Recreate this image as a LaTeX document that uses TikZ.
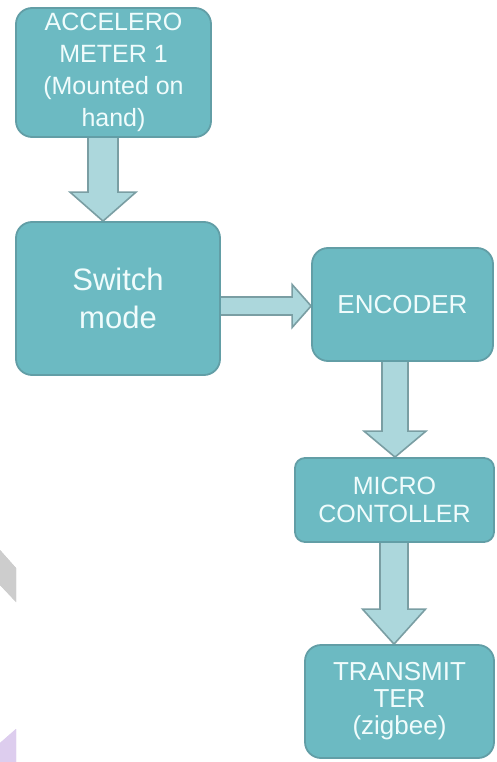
\documentclass[tikz,border=0pt]{standalone}
\usepackage{fontspec}
\setmainfont{Liberation Sans}
\usetikzlibrary{calc,backgrounds}
\definecolor{boxfill}{RGB}{108,186,194}
\definecolor{boxedge}{RGB}{98,158,166}
\definecolor{arrfill}{RGB}{172,215,220}
\definecolor{arredge}{RGB}{122,158,163}
\definecolor{txt}{RGB}{240,252,252}
\definecolor{greyshape}{RGB}{205,205,205}
\definecolor{lav}{RGB}{221,205,238}
\begin{document}
\begin{tikzpicture}[x=1pt,y=-1pt,
  box/.style={draw=boxedge, line width=1.8pt, fill=boxfill, rounded corners=16pt, text=txt, align=center, inner sep=0pt},
  blk/.style={draw=arredge, line width=1.6pt, fill=arrfill, line join=miter}]
\useasboundingbox (0,0) rectangle (497,762);
% decorations
\fill[greyshape] (0,550) -- (16,568) -- (16,602) -- (0,585) -- cycle;
\fill[lav] (0,743) -- (16,729) -- (16,762) -- (0,762) -- cycle;
% boxes
\node[box, minimum width=195pt, minimum height=129pt, font=\fontsize{25pt}{32pt}\selectfont] (acc) at (113.5,72.5) {ACCELERO\\METER 1\\(Mounted on\\hand)};
\node[box, minimum width=204pt, minimum height=153pt, font=\fontsize{31pt}{38pt}\selectfont] (sw) at (118,298.5) {Switch\\mode};
\node[box, minimum width=181pt, minimum height=113pt, font=\fontsize{26pt}{30pt}\selectfont] (enc) at (402.5,304.5) {ENCODER};
\node[box, rounded corners=10pt, minimum width=199pt, minimum height=84pt, font=\fontsize{25pt}{28pt}\selectfont] (mc) at (394.5,500) {MICRO\\CONTOLLER};
\node[box, minimum width=189pt, minimum height=113pt, font=\fontsize{26pt}{27pt}\selectfont] (tx) at (399.5,701.5) {TRANSMIT\\TER\\(zigbee)};
\coordinate (c1) at (103,0);
\coordinate (c2) at (0,306);
\coordinate (c3) at (395,0);
\coordinate (c4) at (394,0);
\begin{scope}[on background layer]
\fill[white] (0,0) rectangle (497,762);
\fill[greyshape] (0,550) -- (16,568) -- (16,602) -- (0,585) -- cycle;
\fill[lav] (0,743) -- (16,729) -- (16,762) -- (0,762) -- cycle;
% arrow 1
\draw[blk] ($(acc.south-|c1)+(-15,-3)$) -- ($(acc.south-|c1)+(15,-3)$) -- ($(sw.north-|c1)+(15,-29)$) -- ($(sw.north-|c1)+(33,-29)$) -- (sw.north-|c1) -- ($(sw.north-|c1)+(-33,-29)$) -- ($(sw.north-|c1)+(-15,-29)$) -- cycle;
% arrow 2
\draw[blk] ($(sw.east|-c2)+(-3,-9)$) -- ($(enc.west|-c2)+(-19,-9)$) -- ($(enc.west|-c2)+(-19,-21.5)$) -- (enc.west|-c2) -- ($(enc.west|-c2)+(-19,21.5)$) -- ($(enc.west|-c2)+(-19,9)$) -- ($(sw.east|-c2)+(-3,9)$) -- cycle;
% arrow 3
\draw[blk] ($(enc.south-|c3)+(-13,-3)$) -- ($(enc.south-|c3)+(13,-3)$) -- ($(mc.north-|c3)+(13,-26)$) -- ($(mc.north-|c3)+(31,-26)$) -- (mc.north-|c3) -- ($(mc.north-|c3)+(-31,-26)$) -- ($(mc.north-|c3)+(-13,-26)$) -- cycle;
% arrow 4
\draw[blk] ($(mc.south-|c4)+(-14,-3)$) -- ($(mc.south-|c4)+(14,-3)$) -- ($(tx.north-|c4)+(14,-35)$) -- ($(tx.north-|c4)+(31.5,-35)$) -- (tx.north-|c4) -- ($(tx.north-|c4)+(-31.5,-35)$) -- ($(tx.north-|c4)+(-14,-35)$) -- cycle;
\end{scope}
\end{tikzpicture}
\end{document}
